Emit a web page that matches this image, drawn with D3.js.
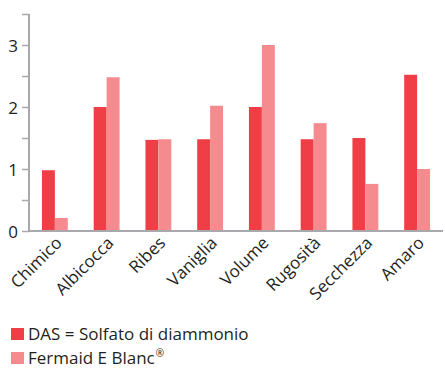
<!DOCTYPE html>
<html><head><meta charset="utf-8">
<script src="https://cdn.jsdelivr.net/npm/d3@7/dist/d3.min.js"></script>
<style>
html,body{margin:0;padding:0;background:#fff;}
text{font-family:"Open Sans",sans-serif;fill:#231f20;}
</style></head>
<body><svg id="c" width="445" height="370"></svg>
<script>
const categories = ["Chimico","Albicocca","Ribes","Vaniglia","Volume","Rugosità","Secchezza","Amaro"];
const seriesNames = ["DAS = Solfato di diammonio","Fermaid E Blanc"];
const seriesSup = ["", "®"];
const dasValues = [0.98, 2.0, 1.47, 1.48, 2.0, 1.48, 1.5, 2.52];
const fermaidValues = [0.21, 2.48, 1.48, 2.02, 3.0, 1.74, 0.76, 1.0];
const yTickLabels = [0, 1, 2, 3];
const colors = ["#ef3e45", "#f58b8f"];

const svg = d3.select("#c");
const mLeft = 29, mRight = 443, mTop = 14, mBottom = 231;

const x = d3.scaleBand().domain(categories).range([mLeft, mRight]).paddingInner(0.5).paddingOuter(0.25);
const x1 = d3.scaleBand().domain([0,1]).range([0, x.bandwidth()]);
const y = d3.scaleLinear().domain([0, 3.5]).range([mBottom, mTop]);

const series = [dasValues, fermaidValues];
series.forEach((vals, si) => {
  svg.append("g").selectAll("rect").data(vals).join("rect")
    .attr("x", (d,i) => x(categories[i]) + x1(si))
    .attr("width", x1.bandwidth())
    .attr("y", d => y(d))
    .attr("height", d => y(0) - y(d))
    .attr("fill", colors[si]);
});

// y axis
const yAxis = d3.axisLeft(y).tickValues(d3.range(0, 3.51, 0.5)).tickSize(7)
  .tickFormat(d => yTickLabels.includes(d) ? d3.format("d")(d) : "");
const gy = svg.append("g").attr("transform", `translate(${mLeft},0)`).call(yAxis);
gy.select(".domain").attr("stroke", "#a7a9ac").attr("stroke-width", 2).attr("d", `M0,${mTop}V${mBottom}`);
gy.selectAll(".tick line").attr("stroke", "#a7a9ac").attr("stroke-width", 1.5);
gy.selectAll(".tick text").attr("font-size", 17).attr("x", -11).attr("dy", "0.36em").attr("fill", "#231f20")
  .attr("font-family", "Open Sans, sans-serif");

// x axis
const xAxis = d3.axisBottom(x).tickSize(0);
const gx = svg.append("g").attr("transform", `translate(0,${mBottom})`).call(xAxis);
gx.select(".domain").attr("stroke", "#a7a9ac").attr("stroke-width", 2).attr("d", `M${mLeft},0H${mRight}`);
gx.selectAll(".tick text").attr("font-size", 17).attr("fill", "#231f20")
  .attr("font-family", "Open Sans, sans-serif")
  .attr("text-anchor", "end").attr("dy", 0).attr("y", 0)
  .attr("transform", "translate(8,13) rotate(-45)");

// legend
const lg = svg.append("g");
seriesNames.forEach((n, i) => {
  const base = 340 + i * 24;
  lg.append("rect").attr("x", 11).attr("y", base - 12).attr("width", 13).attr("height", 12).attr("fill", colors[i]);
  const t = lg.append("text").attr("x", 28).attr("y", base).attr("font-size", 17).text(n);
  if (seriesSup[i]) t.append("tspan").attr("font-size", 10).attr("dy", -7).attr("dx", 1).text(seriesSup[i]);
});
</script></body></html>
